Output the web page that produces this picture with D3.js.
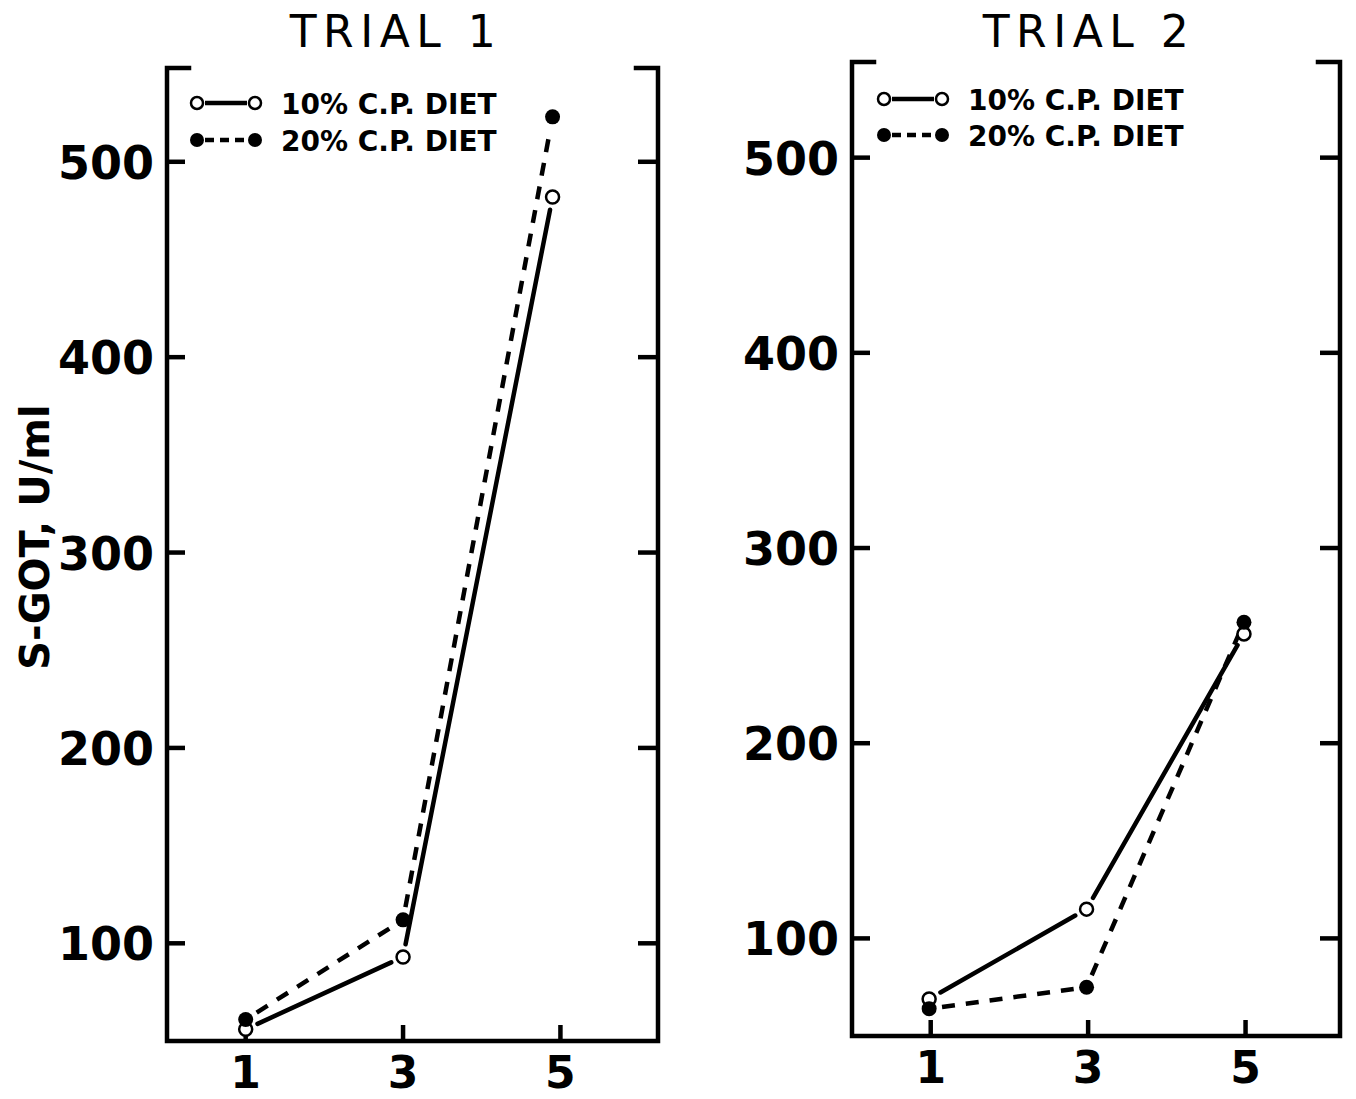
<!DOCTYPE html>
<html><head><meta charset="utf-8">
<script src="https://cdn.jsdelivr.net/npm/d3@7"></script>
<style>body{margin:0;background:#fff}svg{display:block}</style>
</head><body>
<svg id="c" width="1356" height="1099"></svg>
<script>
// ---- data ----
const days = [1, 3, 5];
const xTicks = [1, 3, 5];
const yTicks = [100, 200, 300, 400, 500];
const seriesNames = ["10% C.P. DIET", "20% C.P. DIET"];
const trial1Days = [1, 3, 4.9];
const trial1Low = [56, 93, 482];    // 10% C.P.
const trial1High = [61, 112, 523];  // 20% C.P.
const trial2Days = [0.98, 2.98, 4.98];
const trial2Low = [69, 115, 256];
const trial2High = [64, 75, 262];
const titles = ["TRIAL 1", "TRIAL 2"];
const yLabel = "S-GOT, U/ml";

// ---- layout ----
const panels = [
  {title: titles[0], xs: trial1Days, low: trial1Low, high: trial1High,
   xDom: [0, 6.24], xRange: [167, 658], yDom: [50, 548], yRange: [1041, 68],
   legX: 197, legY: 103, rowH: 37, titleX: 396},
  {title: titles[1], xs: trial2Days, low: trial2Low, high: trial2High,
   xDom: [0, 6.2], xRange: [852, 1340], yDom: [50, 549], yRange: [1036, 62],
   legX: 884, legY: 99, rowH: 36, titleX: 1089}
];

const svg = d3.select("#c");
const numFont = "DejaVu Sans, sans-serif";
const lw = 4.5;

function gapSegments(pts, gap) {
  const segs = [];
  for (let i = 0; i < pts.length - 1; i++) {
    const [x1, y1] = pts[i], [x2, y2] = pts[i + 1];
    const dx = x2 - x1, dy = y2 - y1, L = Math.hypot(dx, dy);
    const ux = dx / L, uy = dy / L;
    segs.push([[x1 + ux * gap, y1 + uy * gap], [x2 - ux * gap, y2 - uy * gap]]);
  }
  return segs;
}

panels.forEach(p => {
  const x = d3.scaleLinear().domain(p.xDom).range(p.xRange);
  const y = d3.scaleLinear().domain(p.yDom).range(p.yRange);
  const g = svg.append("g");
  const [x0, x1] = p.xRange, [yb, yt] = p.yRange;

  // frame: left axis, bottom axis, right axis, top bracket stubs
  const frame = g.append("g").attr("stroke", "#000").attr("stroke-width", lw)
    .attr("fill", "none").attr("stroke-linecap", "square");
  frame.append("path").attr("d", `M${x0 + 22},${yt} H${x0} V${yb} H${x1} V${yt} H${x1 - 22}`);

  // y ticks inside, both sides
  const tk = g.append("g").attr("stroke", "#000").attr("stroke-width", lw);
  yTicks.forEach(v => {
    tk.append("line").attr("x1", x0).attr("x2", x0 + 18).attr("y1", y(v)).attr("y2", y(v));
    tk.append("line").attr("x1", x1).attr("x2", x1 - 20).attr("y1", y(v)).attr("y2", y(v));
  });
  // x ticks inside
  xTicks.forEach(v => {
    tk.append("line").attr("x1", x(v)).attr("x2", x(v)).attr("y1", yb).attr("y2", yb - 16);
  });

  // y tick labels
  g.append("g").selectAll("text").data(yTicks).join("text")
    .attr("x", x0 - 13).attr("y", d => y(d) + 17)
    .attr("text-anchor", "end").attr("font-family", numFont).attr("font-weight", "bold")
    .attr("font-size", 46).text(d => d);
  // x tick labels
  g.append("g").selectAll("text").data(xTicks).join("text")
    .attr("x", d => x(d)).attr("y", yb + 47)
    .attr("text-anchor", "middle").attr("font-family", numFont).attr("font-weight", "bold")
    .attr("font-size", 44).text(d => d);

  // title
  g.append("text").attr("x", p.titleX).attr("y", 47).attr("text-anchor", "middle")
    .attr("font-family", "DejaVu Sans, sans-serif").attr("font-size", 44)
    .attr("letter-spacing", 6.5).text(p.title);

  const ptsLow = p.xs.map((d, i) => [x(d), y(p.low[i])]);
  const ptsHigh = p.xs.map((d, i) => [x(d), y(p.high[i])]);

  // lines with gaps around markers
  gapSegments(ptsLow, 13).forEach(s => {
    g.append("line").attr("x1", s[0][0]).attr("y1", s[0][1]).attr("x2", s[1][0]).attr("y2", s[1][1])
      .attr("stroke", "#000").attr("stroke-width", lw).attr("stroke-linecap", "round");
  });
  gapSegments(ptsHigh, 13).forEach(s => {
    g.append("line").attr("x1", s[0][0]).attr("y1", s[0][1]).attr("x2", s[1][0]).attr("y2", s[1][1])
      .attr("stroke", "#000").attr("stroke-width", lw).attr("stroke-dasharray", "13 11")
      .attr("stroke-linecap", "butt");
  });

  // markers
  g.append("g").selectAll("circle").data(ptsLow).join("circle")
    .attr("cx", d => d[0]).attr("cy", d => d[1]).attr("r", 6.5)
    .attr("fill", "#fff").attr("stroke", "#000").attr("stroke-width", 2.5);
  g.append("g").selectAll("circle").data(ptsHigh).join("circle")
    .attr("cx", d => d[0]).attr("cy", d => d[1]).attr("r", 7.5).attr("fill", "#000");

  // legend
  const lg = g.append("g").attr("transform", `translate(${p.legX},${p.legY})`);
  [0, 1].forEach(i => {
    const ry = i * p.rowH;
    const ln = lg.append("line").attr("x1", 8).attr("x2", 50).attr("y1", ry).attr("y2", ry)
      .attr("stroke", "#000").attr("stroke-width", lw);
    if (i === 1) ln.attr("stroke-dasharray", "9 6");
    [0, 58].forEach(cx => {
      const c = lg.append("circle").attr("cx", cx).attr("cy", ry);
      if (i === 0) c.attr("r", 6).attr("fill", "#fff").attr("stroke", "#000").attr("stroke-width", 2.5);
      else c.attr("r", 7).attr("fill", "#000");
    });
    lg.append("text").attr("x", 84).attr("y", ry + 11).attr("font-family", numFont)
      .attr("font-weight", "bold").attr("font-size", 28).text(seriesNames[i]);
  });
});

// y axis label
svg.append("text").attr("transform", "translate(49,537) rotate(-90)")
  .attr("text-anchor", "middle").attr("font-family", numFont).attr("font-weight", "bold")
  .attr("font-size", 40).text(yLabel);
</script>
</body></html>
